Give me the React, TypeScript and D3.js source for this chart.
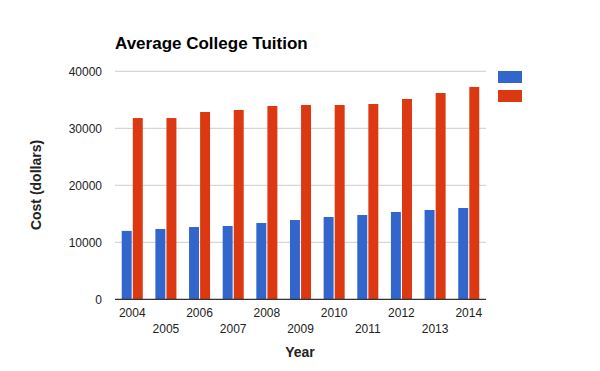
import React from "react";
import * as d3 from "d3";

const years = ["2004","2005","2006","2007","2008","2009","2010","2011","2012","2013","2014"];
const seriesA = [12000,12330,12680,12860,13390,13910,14440,14790,15320,15670,16020];
const seriesB = [31800,31800,32860,33210,33910,34090,34090,34260,35140,36190,37250];
const yTicks = [0,10000,20000,30000,40000];
const colors = ["#3366cc", "#dc3912"];

export default function App() {
  const W = 600, H = 371;
  const left = 115, right = 486, top = 71.3, bottom = 299.3;
  const x = d3.scaleBand<string>().domain(years).range([left, right]).paddingInner(0.375).paddingOuter(0.2);
  const y = d3.scaleLinear().domain([0, 40000]).range([bottom, top]);
  const inner = d3.scaleBand<number>().domain([0, 1]).range([0, x.bandwidth()]).paddingInner(0.1);
  const font = "Arial, 'Liberation Sans', sans-serif";
  return (
    <svg width={W} height={H} style={{ position: "absolute", left: 0, top: 0 }} fontFamily={font}>
      <rect width={W} height={H} fill="#fff" />
      <text x={115} y={49} fontSize={17} fontWeight="bold" fill="#000">Average College Tuition</text>
      {yTicks.map(t => (
        <g key={t}>
          {t > 0 && <line x1={left} x2={right} y1={y(t)} y2={y(t)} stroke="#cccccc" strokeWidth={1} />}
          <text x={102} y={y(t)} dy="0.35em" textAnchor="end" fontSize={12} fill="#222">{t}</text>
        </g>
      ))}
      {years.map((yr, i) => (
        <g key={yr}>
          {[seriesA[i], seriesB[i]].map((v, j) => (
            <rect key={j} x={(x(yr) as number) + (inner(j) as number)} width={inner.bandwidth()} y={y(v)} height={bottom - y(v)} fill={colors[j]} />
          ))}
          <text x={(x(yr) as number) + x.bandwidth() / 2} y={i % 2 === 0 ? 317 : 333} textAnchor="middle" fontSize={12} fill="#222">{yr}</text>
        </g>
      ))}
      <line x1={left} x2={right} y1={bottom} y2={bottom} stroke="#333" strokeWidth={1.2} />
      <text x={300} y={357} textAnchor="middle" fontSize={14} fontWeight="bold" fill="#222">Year</text>
      <text transform={`translate(41,185) rotate(-90)`} textAnchor="middle" fontSize={14} fontWeight="bold" fill="#222">Cost (dollars)</text>
      <rect x={498} y={71} width={24} height={12} fill={colors[0]} />
      <rect x={498} y={90} width={24} height={12} fill={colors[1]} />
    </svg>
  );
}
